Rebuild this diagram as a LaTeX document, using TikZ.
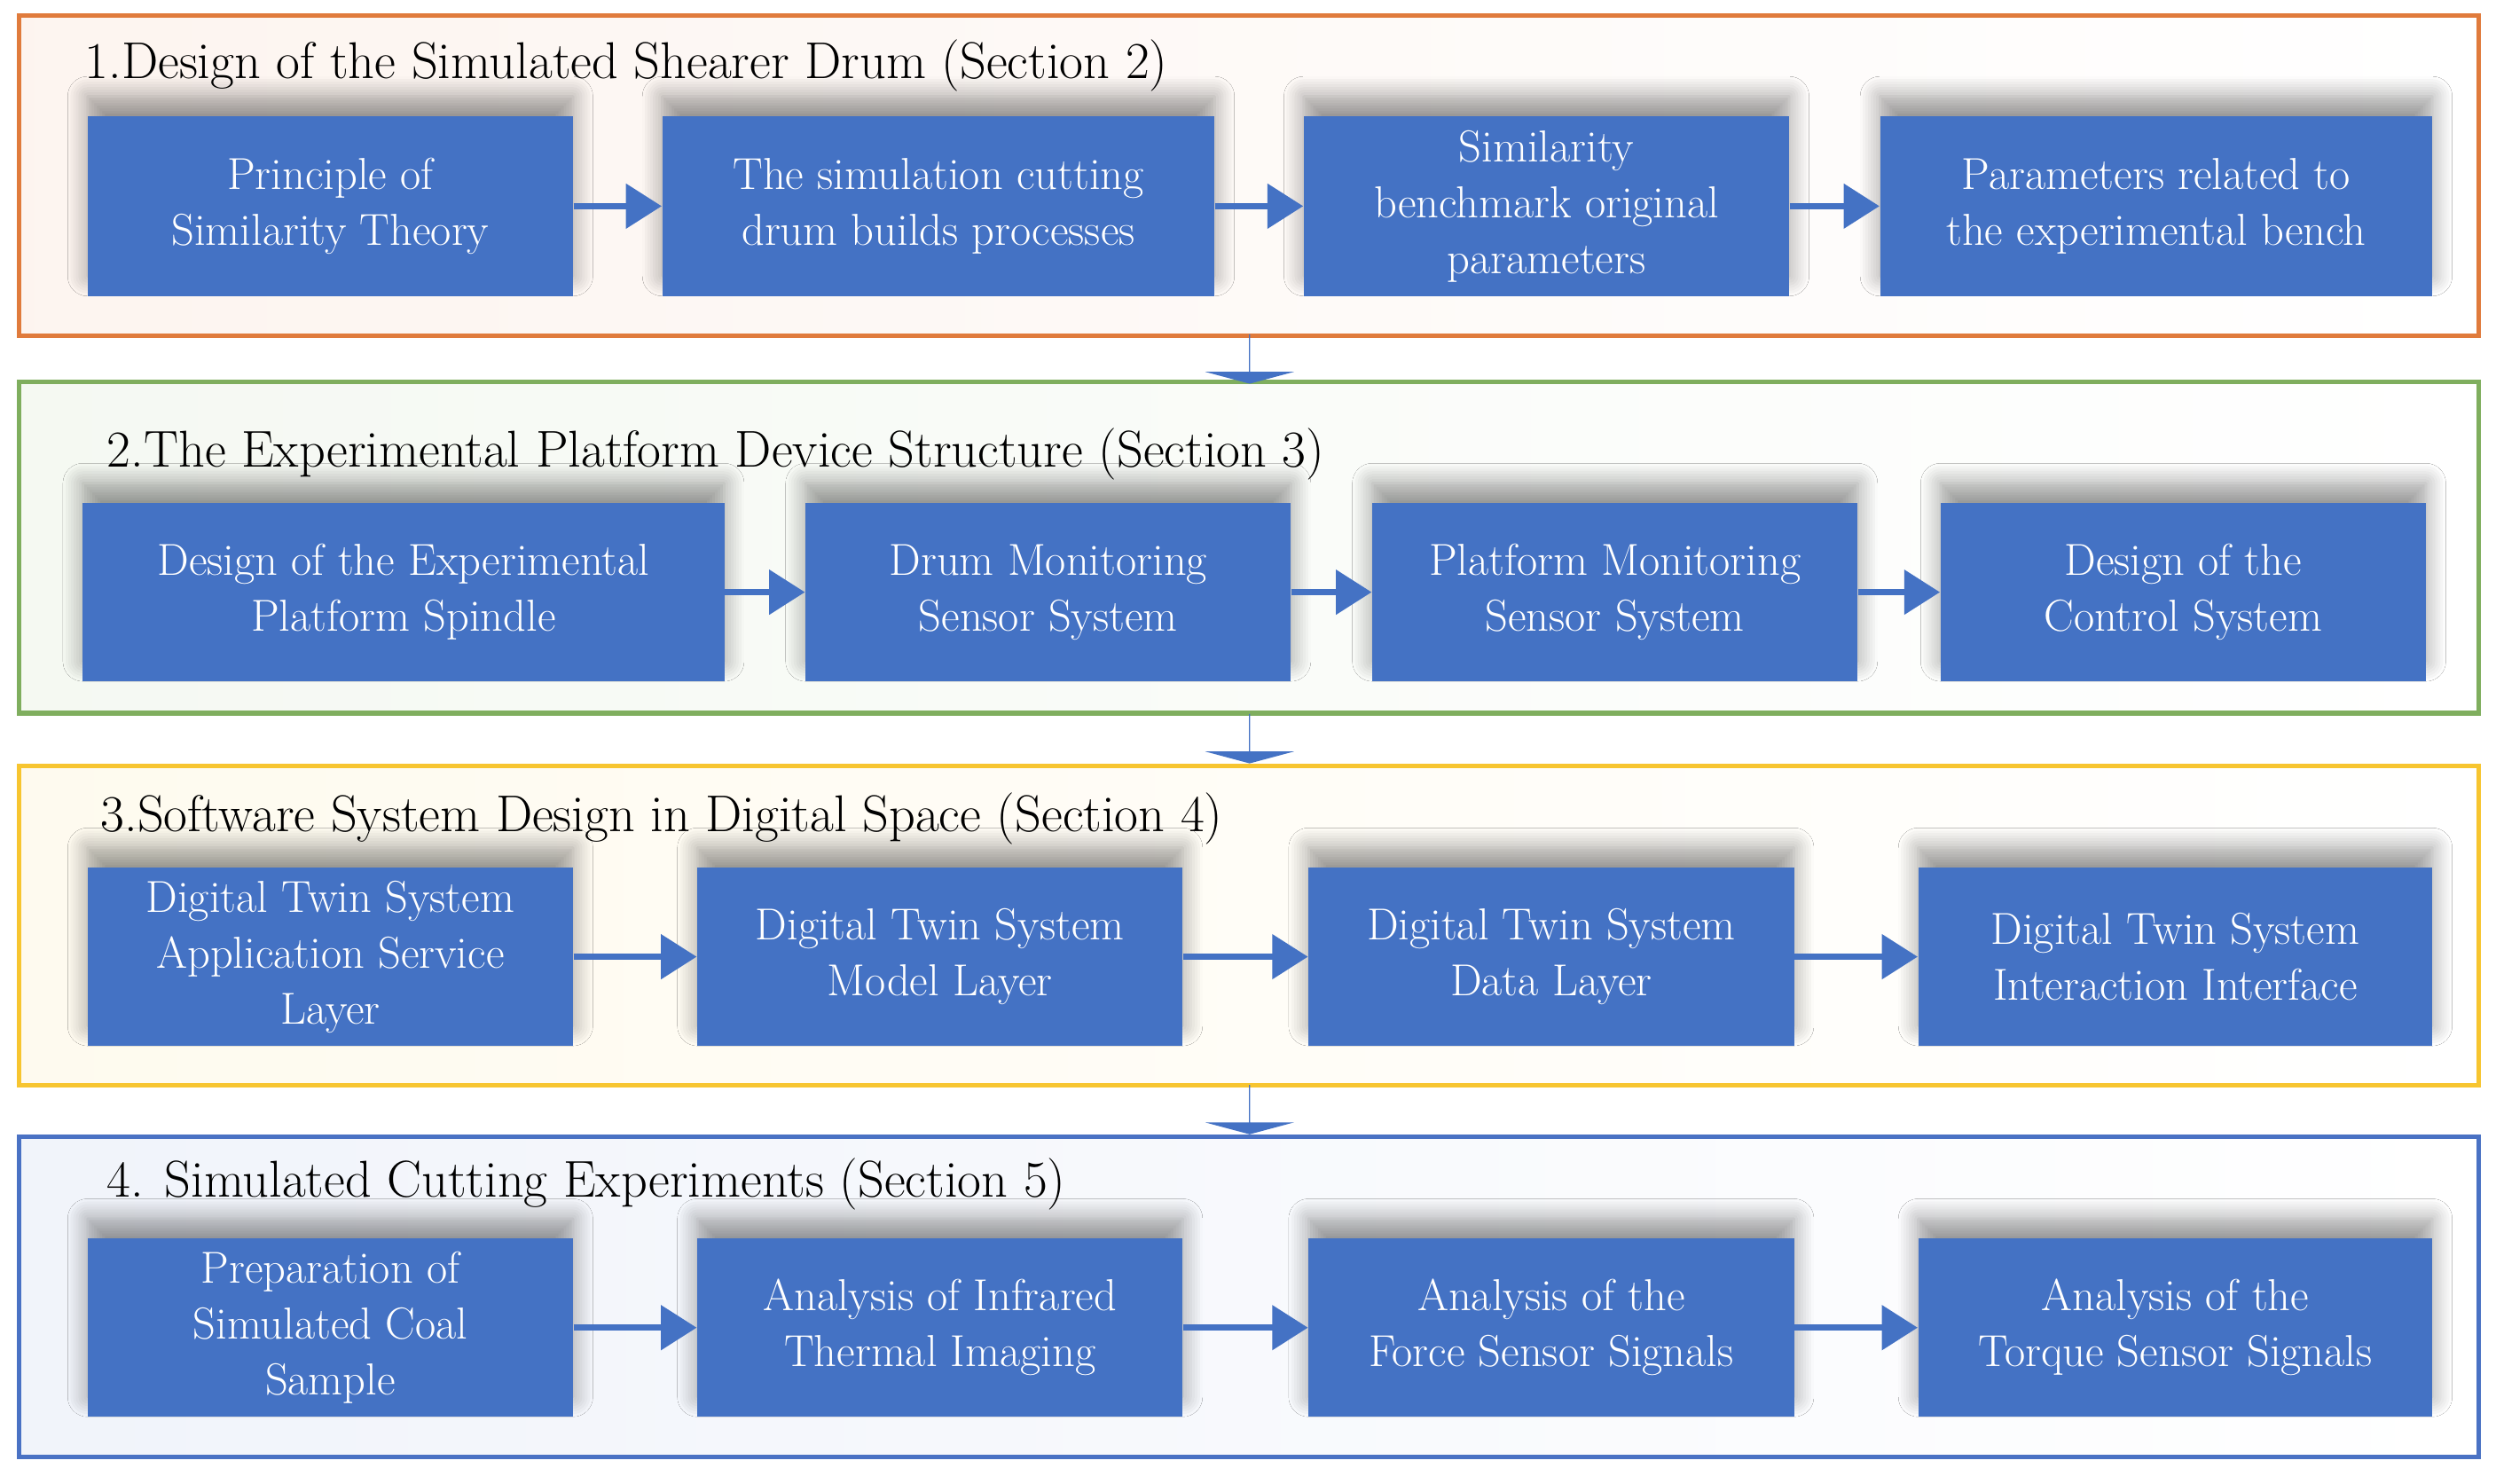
\documentclass[tikz,border=0pt]{standalone}
\usepackage{tikz}
\usetikzlibrary{arrows.meta,positioning,calc,shadows.blur,shapes.arrows}
\definecolor{boxblue}{HTML}{4472C4}
\definecolor{panelorange}{HTML}{E07B3C}
\definecolor{panelgreen}{HTML}{7FAE5E}
\definecolor{panelyellow}{HTML}{F7C530}
\definecolor{panelblue}{HTML}{4A72C4}
\tikzset{
    % panel frame
    panel/.style={
        draw=#1,
        line width=1.6pt,
        left color=#1!8,
        right color=white
    },
    % stage box
    stage box/.style={
        rectangle,
        fill=boxblue,
        text=white,
        align=center,
        inner sep=0pt,
        font=\fontsize{16}{20}\selectfont,
        blur shadow={shadow blur steps=8, shadow xshift=0mm, shadow yshift=2.5mm, shadow blur radius=2.5mm}
    },
    % panel title
    panel title/.style={
        anchor=west,
        font=\fontsize{18.5}{22}\selectfont,
        text=black,
        inner sep=0pt
    },
    % arrows
    flow/.style={
        -{Triangle[length=4.5mm, width=5.5mm]},
        line width=2.2pt,
        color=boxblue
    },
    down/.style={
        single arrow,
        single arrow head extend=5.5mm,
        single arrow tip angle=150,
        fill=boxblue,
        shape border rotate=270,
        minimum width=1.08cm,
        minimum height=0.62cm,
        inner sep=0pt
    }
}
\begin{document}
\begin{tikzpicture}[x=0.02cm, y=-0.02cm]
    \useasboundingbox[fill=white] (0,0) rectangle (1568,932);

    % Panels
    \draw[panel=panelorange] (12,10) rectangle (1557,211);
    \draw[panel=panelgreen] (12,240) rectangle (1557,448);
    \draw[panel=panelyellow] (12,481) rectangle (1557,682);
    \draw[panel=panelblue] (12,714) rectangle (1557,915);

    \node[panel title] (t1) at (53,41) {1.Design of the Simulated Shearer Drum (Section 2)};
    \node[panel title] (t2) at (67,285) {2.The Experimental Platform Device Structure (Section 3)};
    \node[panel title] (t3) at (63,514) {3.Software System Design in Digital Space (Section 4)};
    \node[panel title] (t4) at (67,744) {4. Simulated Cutting Experiments (Section 5)};

    % Row 1
    \node[stage box, minimum width=6.1cm, minimum height=2.26cm] (a1) at (207.5,129.5) {Principle of\\Similarity Theory};
    \node[stage box, minimum width=6.94cm, minimum height=2.26cm] (a2) at (589.5,129.5) {The simulation cutting\\drum builds processes};
    \node[stage box, minimum width=6.1cm, minimum height=2.26cm] (a3) at (971.5,129.5) {Similarity\\benchmark original\\parameters};
    \node[stage box, minimum width=6.94cm, minimum height=2.26cm] (a4) at (1354.5,129.5) {Parameters related to\\the experimental bench};

    % Row 2
    \node[stage box, minimum width=8.06cm, minimum height=2.24cm] (b1) at (253.5,372) {Design of the Experimental\\Platform Spindle};
    \node[stage box, minimum width=6.1cm, minimum height=2.24cm] (b2) at (658.5,372) {Drum Monitoring\\Sensor System};
    \node[stage box, minimum width=6.1cm, minimum height=2.24cm] (b3) at (1014.5,372) {Platform Monitoring\\Sensor System};
    \node[stage box, minimum width=6.1cm, minimum height=2.24cm] (b4) at (1371.5,372) {Design of the\\Control System};

    % Row 3
    \node[stage box, minimum width=6.1cm, minimum height=2.24cm] (c1) at (207.5,601) {Digital Twin System\\Application Service\\Layer};
    \node[stage box, minimum width=6.1cm, minimum height=2.24cm] (c2) at (590.5,601) {Digital Twin System\\Model Layer};
    \node[stage box, minimum width=6.1cm, minimum height=2.24cm] (c3) at (974.5,601) {Digital Twin System\\Data Layer};
    \node[stage box, minimum width=6.46cm, minimum height=2.24cm] (c4) at (1366.5,601) {Digital Twin System\\Interaction Interface};

    % Row 4
    \node[stage box, minimum width=6.1cm, minimum height=2.24cm] (d1) at (207.5,834) {Preparation of\\Simulated Coal\\Sample};
    \node[stage box, minimum width=6.1cm, minimum height=2.24cm] (d2) at (590.5,834) {Analysis of Infrared\\Thermal Imaging};
    \node[stage box, minimum width=6.1cm, minimum height=2.24cm] (d3) at (974.5,834) {Analysis of the\\Force Sensor Signals};
    \node[stage box, minimum width=6.46cm, minimum height=2.24cm] (d4) at (1366.5,834) {Analysis of the\\Torque Sensor Signals};

    % Connectors
    \foreach \r in {a,b,c,d}{
        \draw[flow] (\r1) -- (\r2);
        \draw[flow] (\r2) -- (\r3);
        \draw[flow] (\r3) -- (\r4);
    }

    % Between panels
    \node[down] (s1) at (785,225.5) {};
    \node[down] (s2) at (785,464) {};
    \node[down] (s3) at (785,697) {};
\end{tikzpicture}
\end{document}
